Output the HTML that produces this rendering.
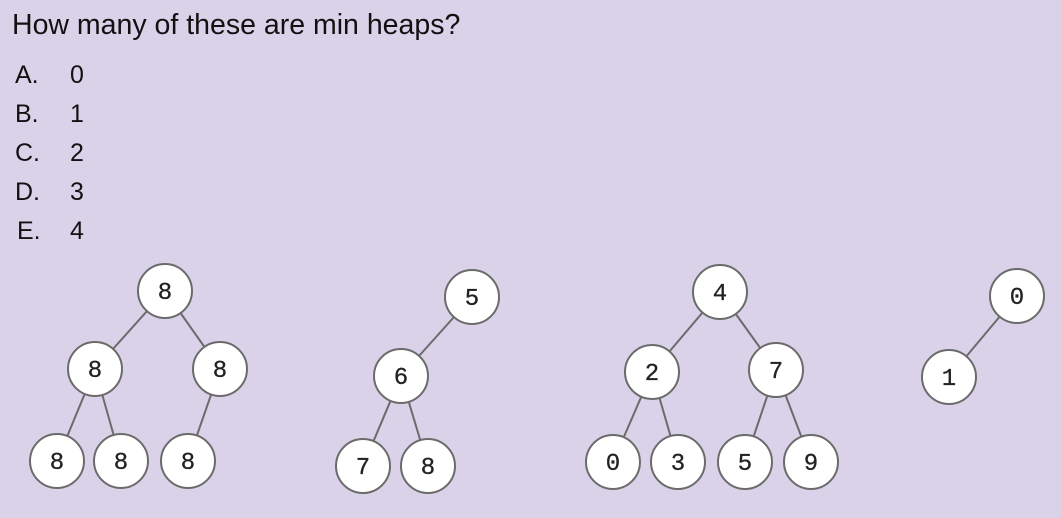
<!DOCTYPE html>
<html><head><meta charset="utf-8"><style>
html,body{margin:0;padding:0;}
body{width:1061px;height:518px;background:#d9d2e9;overflow:hidden;}
svg{display:block;}
.t{font-family:"Liberation Sans",sans-serif;fill:#111;}
.n{font-family:"Liberation Mono",monospace;font-size:24px;fill:#222;stroke:#222;stroke-width:0.3;}
</style></head><body>
<svg width="1061" height="518">
<text class="t" x="12" y="34" font-size="28.5">How many of these are min heaps?</text>
<g font-size="25" class="t">
<text class="t" x="15" y="83">A.</text><text class="t" x="70" y="83">0</text>
<text class="t" x="15" y="122">B.</text><text class="t" x="70" y="122">1</text>
<text class="t" x="15" y="161">C.</text><text class="t" x="70" y="161">2</text>
<text class="t" x="15" y="200">D.</text><text class="t" x="70" y="200">3</text>
<text class="t" x="17" y="239">E.</text><text class="t" x="70" y="239">4</text>
</g>
<g id="trees"></g>
</svg>
<script>
const nodes=[
 [165,291,'8'],[95,369,'8'],[220,369,'8'],[57,461,'8'],[121,461,'8'],[188,461,'8'],
 [472,297,'5'],[401,376,'6'],[363,466,'7'],[428,466,'8'],
 [720,292,'4'],[652,372,'2'],[776,370,'7'],[613,462,'0'],[678,462,'3'],[745,462,'5'],[811,462,'9'],
 [1017,296,'0'],[949,377,'1']
];
const edges=[[0,1],[0,2],[1,3],[1,4],[2,5],[6,7],[7,8],[7,9],[10,11],[10,12],[11,13],[11,14],[12,15],[12,16],[17,18]];
const g=document.getElementById('trees');
const ns='http://www.w3.org/2000/svg';
edges.forEach(([a,b])=>{
 const l=document.createElementNS(ns,'line');
 l.setAttribute('x1',nodes[a][0]);l.setAttribute('y1',nodes[a][1]);
 l.setAttribute('x2',nodes[b][0]);l.setAttribute('y2',nodes[b][1]);
 l.setAttribute('stroke','#6b6b6b');l.setAttribute('stroke-width','2');
 
 
 g.appendChild(l);
});
nodes.forEach(([x,y,v])=>{
 const c=document.createElementNS(ns,'circle');
 c.setAttribute('cx',x);c.setAttribute('cy',y);c.setAttribute('r',27);
 c.setAttribute('fill','#fff');c.setAttribute('stroke','#6b6b6b');c.setAttribute('stroke-width','2');
 
 
 g.appendChild(c);
 const t=document.createElementNS(ns,'text');
 t.setAttribute('x',x);t.setAttribute('y',y+8);t.setAttribute('text-anchor','middle');
 t.setAttribute('class','n');t.textContent=v;
 
 
 g.appendChild(t);
});
</script>
</body></html>
